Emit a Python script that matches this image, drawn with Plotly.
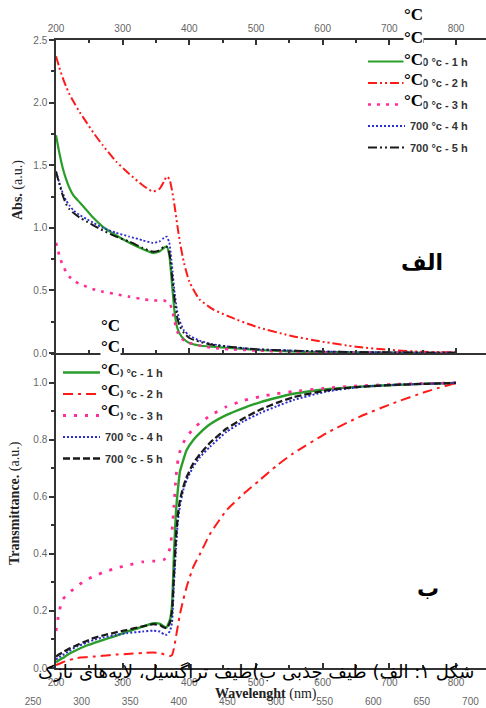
import plotly.graph_objects as go

# ---------------- data ----------------
series_names = ["700 °c - 1 h", "700 °c - 2 h", "700 °c - 3 h", "700 °c - 4 h", "700 °c - 5 h"]

# (a) absorbance
wl_abs = [200, 205, 210, 215, 220, 226, 236, 246, 256, 270, 290, 310, 330, 345, 355, 362, 366,
          370, 374, 378, 382, 386, 392, 400, 415, 435, 460, 500, 550, 600, 650, 700, 750, 800]
abs_1h = [1.74, 1.60, 1.48, 1.39, 1.32, 1.26, 1.20, 1.14, 1.08, 1.01, 0.94, 0.88, 0.83, 0.80, 0.81, 0.84, 0.85,
          0.78, 0.55, 0.32, 0.20, 0.15, 0.11, 0.08, 0.06, 0.05, 0.04, 0.025, 0.012, 0.008, 0.005, 0.003, 0.002, 0.001]
abs_2h = [2.37, 2.28, 2.20, 2.13, 2.07, 2.01, 1.92, 1.84, 1.76, 1.66, 1.53, 1.43, 1.34, 1.29, 1.31, 1.37, 1.41,
          1.39, 1.30, 1.17, 1.02, 0.88, 0.72, 0.57, 0.43, 0.35, 0.29, 0.21, 0.14, 0.09, 0.05, 0.025, 0.01, 0.005]
abs_3h = [0.88, 0.78, 0.70, 0.65, 0.61, 0.58, 0.55, 0.53, 0.51, 0.49, 0.47, 0.45, 0.43, 0.42, 0.42, 0.42, 0.41,
          0.40, 0.35, 0.25, 0.17, 0.13, 0.10, 0.08, 0.06, 0.04, 0.03, 0.02, 0.01, 0.006, 0.004, 0.003, 0.002, 0.001]
abs_4h = [1.45, 1.36, 1.28, 1.22, 1.18, 1.14, 1.10, 1.07, 1.04, 1.00, 0.96, 0.93, 0.90, 0.88, 0.89, 0.92, 0.93,
          0.88, 0.70, 0.48, 0.33, 0.25, 0.18, 0.14, 0.10, 0.07, 0.05, 0.03, 0.02, 0.012, 0.008, 0.005, 0.003, 0.002]
abs_5h = [1.45, 1.35, 1.26, 1.19, 1.15, 1.12, 1.08, 1.05, 1.02, 0.98, 0.93, 0.89, 0.84, 0.81, 0.82, 0.85, 0.85,
          0.80, 0.62, 0.42, 0.28, 0.21, 0.16, 0.12, 0.09, 0.065, 0.05, 0.03, 0.02, 0.012, 0.008, 0.005, 0.003, 0.002]

# (b) transmittance
wl_tr = [200, 205, 210, 220, 231, 245, 256, 270, 290, 306, 330, 346, 356, 362, 366, 371, 374, 377, 380, 383,
         386, 391, 396, 406, 416, 431, 456, 481, 506, 531, 556, 606, 656, 706, 756, 800]
tr_1h = [0.02, 0.028, 0.035, 0.05, 0.063, 0.078, 0.087, 0.098, 0.113, 0.127, 0.145, 0.157, 0.155, 0.145, 0.143, 0.17,
         0.22, 0.40, 0.55, 0.63, 0.69, 0.73, 0.765, 0.80, 0.825, 0.855, 0.888, 0.912, 0.932, 0.948, 0.962, 0.978,
         0.987, 0.993, 0.997, 1.0]
tr_2h = [0.01, 0.015, 0.02, 0.028, 0.035, 0.038, 0.04, 0.043, 0.047, 0.049, 0.053, 0.054, 0.052, 0.048, 0.045, 0.042,
         0.045, 0.07, 0.11, 0.15, 0.19, 0.24, 0.285, 0.355, 0.40, 0.47, 0.554, 0.61, 0.66, 0.71, 0.753, 0.824,
         0.882, 0.929, 0.97, 1.0]
tr_3h = [0.13, 0.20, 0.24, 0.265, 0.285, 0.31, 0.32, 0.335, 0.35, 0.36, 0.372, 0.375, 0.375, 0.38, 0.39, 0.42,
         0.48, 0.57, 0.67, 0.73, 0.76, 0.79, 0.81, 0.84, 0.86, 0.885, 0.917, 0.938, 0.952, 0.962, 0.97, 0.982,
         0.99, 0.995, 0.998, 1.0]
tr_4h = [0.03, 0.038, 0.045, 0.06, 0.075, 0.088, 0.098, 0.107, 0.116, 0.122, 0.128, 0.131, 0.128, 0.118, 0.117, 0.13,
         0.16, 0.30, 0.42, 0.52, 0.57, 0.625, 0.66, 0.706, 0.74, 0.776, 0.829, 0.865, 0.894, 0.918, 0.94, 0.97,
         0.986, 0.993, 0.997, 1.0]
tr_5h = [0.04, 0.048, 0.055, 0.068, 0.08, 0.094, 0.105, 0.114, 0.125, 0.133, 0.146, 0.154, 0.15, 0.142, 0.14, 0.16,
         0.20, 0.33, 0.46, 0.54, 0.59, 0.635, 0.67, 0.718, 0.75, 0.79, 0.84, 0.875, 0.906, 0.93, 0.95, 0.974,
         0.986, 0.993, 0.997, 1.0]

x_ticks = [200, 300, 400, 500, 600, 700, 800]
ghost_ticks = [250, 300, 350, 400, 450, 500, 550, 600, 650, 700]
abs_ticks = [0.0, 0.5, 1.0, 1.5, 2.0, 2.5]
tr_ticks = [0.0, 0.2, 0.4, 0.6, 0.8, 1.0]

caption = "شکل ۱: الف) طیف جذبی ب)طیف تراگسیل، لایه‌های نازک"

# ---------------- styles ----------------
W, H = 486, 708
SANS = "Liberation Sans, Arial, sans-serif"
SERIF = "Liberation Serif, Times New Roman, serif"
ARAB = "DejaVu Sans, sans-serif"
GREEN, RED, PINK, BLUE, BLACK = "#2a9d2a", "#ff1a1a", "#ff2d95", "#2b2bd0", "#1a1a1a"

def px(x):
    return x / W

def py(y):
    return 1 - y / H

styles_top = [
    dict(color=GREEN, width=2.2, dash="solid"),
    dict(color=RED, width=2, dash="9px,3px,2px,3px,2px,3px"),
    dict(color=PINK, width=2.6, dash="3px,6px"),
    dict(color=BLUE, width=1.8, dash="2px,2px"),
    dict(color=BLACK, width=2, dash="9px,3px,2px,3px,2px,3px"),
]
styles_bot = [
    dict(color=GREEN, width=2.4, dash="solid"),
    dict(color=RED, width=2, dash="10px,5px,3px,5px"),
    dict(color=PINK, width=2.8, dash="3px,8px"),
    dict(color=BLUE, width=2, dash="2px,2px"),
    dict(color=BLACK, width=2.3, dash="7px,3px"),
]

fig = go.Figure()

for i, ys in enumerate([abs_1h, abs_2h, abs_3h, abs_4h, abs_5h]):
    fig.add_trace(go.Scatter(x=wl_abs, y=ys, mode="lines", name="<b>" + series_names[i] + "</b>",
                             line=dict(shape="spline", smoothing=0.5, **styles_top[i]),
                             xaxis="x", yaxis="y", legend="legend", legendgroup="a%d" % i))
for i, ys in enumerate([tr_1h, tr_2h, tr_3h, tr_4h, tr_5h]):
    fig.add_trace(go.Scatter(x=wl_tr, y=ys, mode="lines", name="<b>" + series_names[i] + "</b>",
                             line=dict(shape="spline", smoothing=0.5, **styles_bot[i]),
                             xaxis="x2", yaxis="y2", legend="legend2", legendgroup="b%d" % i))
# empty trace to carry the stray wavelength axis at the bottom
fig.add_trace(go.Scatter(x=[], y=[], xaxis="x3", yaxis="y2", showlegend=False, hoverinfo="skip"))

axis_common = dict(showline=True, linecolor="#333", linewidth=1.5, showgrid=False, zeroline=False,
                   automargin=False, tickcolor="#333", tickfont=dict(family=SANS, size=10, color="#666"))

top_y0, top_y1 = 40, 353
bot_y0, bot_y1 = 353, 668

fig.update_layout(
    template="none",
    width=W, height=H, margin=dict(l=0, r=0, t=0, b=0, pad=0), autosize=False,
    paper_bgcolor="white", plot_bgcolor="rgba(0,0,0,0)",
    xaxis=dict(domain=[px(56), 1], range=[200, 845], side="top", tickvals=x_ticks,
               ticks="inside", ticklen=5, tickwidth=1.5, mirror="ticks", anchor="y",
               minor=dict(ticks="inside", ticklen=3, dtick=50, tick0=200, tickcolor="#333"),
               ticklabelstandoff=2, **axis_common),
    yaxis=dict(domain=[py(top_y1), py(top_y0)], range=[0, 2.5], tickvals=abs_ticks, tickformat=".1f",
               ticks="outside", ticklen=5, tickwidth=1.5, anchor="x",
               minor=dict(ticks="outside", ticklen=3, dtick=0.25, tick0=0, tickcolor="#333"),
               **axis_common),
    xaxis2=dict(domain=[px(56), 1], range=[200, 845], side="bottom", tickvals=x_ticks,
                ticks="inside", ticklen=5, tickwidth=1.5, anchor="y2",
                minor=dict(ticks="inside", ticklen=3, dtick=50, tick0=200, tickcolor="#333"),
                ticklabelstandoff=4, **axis_common),
    yaxis2=dict(domain=[py(bot_y1), py(bot_y0)], range=[0, 1.105], tickvals=tr_ticks, tickformat=".1f",
                ticks="outside", ticklen=5, tickwidth=1.5, anchor="x2",
                minor=dict(ticks="outside", ticklen=3, dtick=0.1, tick0=0, tickcolor="#333"),
                **axis_common),
    xaxis3=dict(domain=[0, 1], range=[216.05, 716], anchor="free", position=0.02, side="bottom",
                tickvals=ghost_ticks, showline=False, ticks="", showgrid=False, zeroline=False,
                automargin=False, tickfont=dict(family=SANS, size=10, color="#666")),
    legend=dict(x=px(363), y=py(47), xanchor="left", yanchor="top", bgcolor="rgba(0,0,0,0)",
                font=dict(family=SANS, size=11, color="#333"), itemwidth=37, tracegroupgap=2.5,
                traceorder="grouped"),
    legend2=dict(x=px(58), y=py(358), xanchor="left", yanchor="top", bgcolor="rgba(0,0,0,0)",
                 font=dict(family=SANS, size=11, color="#333"), itemwidth=37, tracegroupgap=2.5,
                 traceorder="grouped"),
    showlegend=True,
)

annotations = []
# axis titles
annotations.append(dict(text="<b>Abs.</b> (a.u.)", x=px(18), y=py(190), textangle=-90,
                        font=dict(family=SERIF, size=14, color="#222")))
annotations.append(dict(text="<b>Transmittance.</b> (a.u.)", x=px(15), y=py(503), textangle=-90,
                        font=dict(family=SERIF, size=14, color="#222")))
annotations.append(dict(text="<b>Wavelenght</b> (nm)", x=px(266), y=py(694),
                        font=dict(family=SERIF, size=14, color="#222")))
# panel labels
annotations.append(dict(text="<b>الف</b>", x=px(422), y=py(262), font=dict(family=ARAB, size=22, color="black")))
annotations.append(dict(text="<b>ب</b>", x=px(428), y=py(588), font=dict(family=ARAB, size=22, color="black")))
# stray degree labels
for yy in [15, 37, 59, 80, 100]:
    annotations.append(dict(text="<b>°C</b>", x=px(413), y=py(yy), bgcolor="white", borderpad=0,
                            font=dict(family=SERIF, size=17, color="black")))
for yy in [325, 347, 369, 390, 410]:
    annotations.append(dict(text="<b>°C</b>", x=px(110), y=py(yy), bgcolor="white", borderpad=0,
                            font=dict(family=SERIF, size=17, color="black")))
# caption
annotations.append(dict(text=caption, x=px(256), y=py(672), font=dict(family=ARAB, size=18, color="black")))

for a in annotations:
    a.update(xref="paper", yref="paper", showarrow=False, xanchor="center", yanchor="middle")
fig.update_layout(annotations=annotations)

fig.write_html("out.html", config={"displayModeBar": False},
               post_script="document.body.style.margin='0';document.body.style.overflow='hidden';")
